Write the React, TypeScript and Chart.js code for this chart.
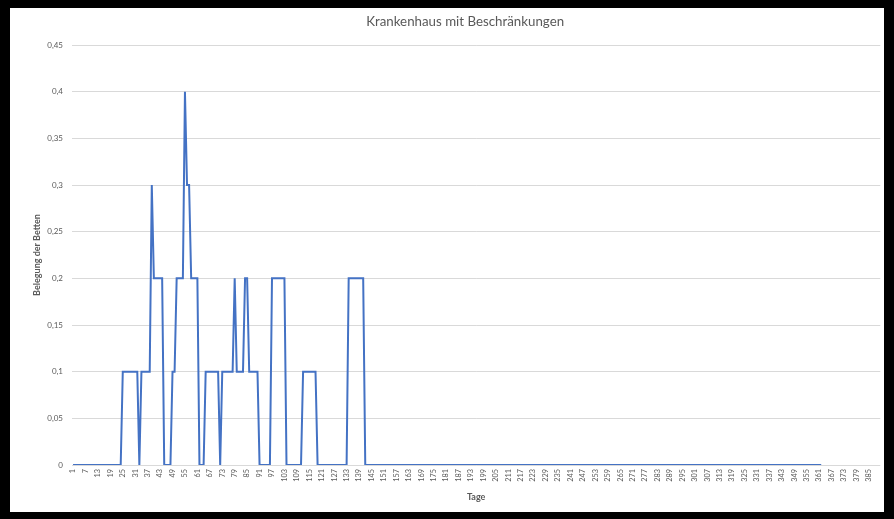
import React, { useEffect, useRef } from "react";
import { Chart, registerables } from "chart.js";

Chart.register(...registerables);

const TITLE = "Krankenhaus mit Beschränkungen";
const Y_TITLE = "Belegung der Betten";
const X_TITLE = "Tage";

// number of day categories on the x axis (rows in the sheet)
const DAY_COUNT = 390;
const days: string[] = Array.from({ length: DAY_COUNT }, (_, i) => String(i + 1));
// a tick label is shown every 6th day
const X_LABEL_STEP = 6;

// bed occupancy per day (days 1..362)
const occupancy: number[] = [
  // 1-20
  0, 0, 0, 0, 0, 0, 0, 0, 0, 0, 0, 0, 0, 0, 0, 0, 0, 0, 0, 0,
  // 21-40
  0, 0, 0, 0, 0.1, 0.1, 0.1, 0.1, 0.1, 0.1, 0.1, 0.1, 0, 0.1, 0.1, 0.1, 0.1, 0.1, 0.3, 0.2,
  // 41-60
  0.2, 0.2, 0.2, 0.2, 0, 0, 0, 0, 0.1, 0.1, 0.2, 0.2, 0.2, 0.2, 0.4, 0.3, 0.3, 0.2, 0.2, 0.2,
  // 61-80
  0.2, 0, 0, 0, 0.1, 0.1, 0.1, 0.1, 0.1, 0.1, 0.1, 0, 0.1, 0.1, 0.1, 0.1, 0.1, 0.1, 0.2, 0.1,
  // 81-100
  0.1, 0.1, 0.1, 0.2, 0.2, 0.1, 0.1, 0.1, 0.1, 0.1, 0, 0, 0, 0, 0, 0, 0.2, 0.2, 0.2, 0.2,
  // 101-120
  0.2, 0.2, 0.2, 0, 0, 0, 0, 0, 0, 0, 0, 0.1, 0.1, 0.1, 0.1, 0.1, 0.1, 0.1, 0, 0,
  // 121-140
  0, 0, 0, 0, 0, 0, 0, 0, 0, 0, 0, 0, 0, 0.2, 0.2, 0.2, 0.2, 0.2, 0.2, 0.2,
  // 141-160
  0.2, 0, 0, 0, 0, 0, 0, 0, 0, 0, 0, 0, 0, 0, 0, 0, 0, 0, 0, 0,
  // 161-180
  0, 0, 0, 0, 0, 0, 0, 0, 0, 0, 0, 0, 0, 0, 0, 0, 0, 0, 0, 0,
  // 181-200
  0, 0, 0, 0, 0, 0, 0, 0, 0, 0, 0, 0, 0, 0, 0, 0, 0, 0, 0, 0,
  // 201-220
  0, 0, 0, 0, 0, 0, 0, 0, 0, 0, 0, 0, 0, 0, 0, 0, 0, 0, 0, 0,
  // 221-240
  0, 0, 0, 0, 0, 0, 0, 0, 0, 0, 0, 0, 0, 0, 0, 0, 0, 0, 0, 0,
  // 241-260
  0, 0, 0, 0, 0, 0, 0, 0, 0, 0, 0, 0, 0, 0, 0, 0, 0, 0, 0, 0,
  // 261-280
  0, 0, 0, 0, 0, 0, 0, 0, 0, 0, 0, 0, 0, 0, 0, 0, 0, 0, 0, 0,
  // 281-300
  0, 0, 0, 0, 0, 0, 0, 0, 0, 0, 0, 0, 0, 0, 0, 0, 0, 0, 0, 0,
  // 301-320
  0, 0, 0, 0, 0, 0, 0, 0, 0, 0, 0, 0, 0, 0, 0, 0, 0, 0, 0, 0,
  // 321-340
  0, 0, 0, 0, 0, 0, 0, 0, 0, 0, 0, 0, 0, 0, 0, 0, 0, 0, 0, 0,
  // 341-360
  0, 0, 0, 0, 0, 0, 0, 0, 0, 0, 0, 0, 0, 0, 0, 0, 0, 0, 0, 0,
  // 361-362
  0, 0,
];

const Y_MIN = 0;
const Y_MAX = 0.45;
const Y_STEP = 0.05;

const FONT = "Lato, 'Open Sans', sans-serif";
const TEXT_COLOR = "#595959";
const GRID_COLOR = "#D9D9D9";
const LINE_COLOR = "#4472C4";

const titlePlugin = {
  id: "offsetTitle",
  afterDraw(chart: any) {
    const { ctx, chartArea } = chart;
    ctx.save();
    ctx.font = `normal 13.3px ${FONT}`;
    ctx.fillStyle = TEXT_COLOR;
    ctx.textAlign = "center";
    ctx.textBaseline = "middle";
    ctx.fillText(TITLE, (chartArea.left + chartArea.right) / 2 - 11, 14);
    ctx.restore();
  },
};

export default function App() {
  const ref = useRef<HTMLCanvasElement>(null);

  useEffect(() => {
    if (!ref.current) return;
    const chart = new Chart(ref.current, {
      type: "line",
      data: {
        labels: days,
        datasets: [
          {
            label: Y_TITLE,
            data: occupancy,
            borderColor: LINE_COLOR,
            backgroundColor: LINE_COLOR,
            borderWidth: 2,
            pointRadius: 0,
            tension: 0,
            fill: false,
          },
        ],
      },
      options: {
        responsive: false,
        animation: false,
        devicePixelRatio: 1,
        layout: { padding: { left: 0, right: 4, top: 37, bottom: 0 } },
        plugins: {
          legend: { display: false },
          tooltip: { enabled: false },
          title: { display: false },
        },
        scales: {
          x: {
            type: "category",
            offset: true,
            grid: { display: false, drawTicks: false },
            border: { display: false },
            afterFit(scale: any) {
              scale.height = 47;
            },
            ticks: {
              autoSkip: false,
              minRotation: 90,
              maxRotation: 90,
              padding: 4,
              color: TEXT_COLOR,
              font: { family: FONT, size: 7.3 },
              callback(_v: any, index: number) {
                return index % X_LABEL_STEP === 0 ? days[index] : "";
              },
            },
            title: {
              display: true,
              text: X_TITLE,
              color: TEXT_COLOR,
              font: { family: FONT, size: 9, weight: "bold" },
              padding: { top: 2, bottom: 10 },
            },
          },
          y: {
            min: Y_MIN,
            max: Y_MAX,
            grid: { color: GRID_COLOR, lineWidth: 1, drawTicks: false },
            border: { display: false },
            afterFit(scale: any) {
              scale.width = 62;
            },
            ticks: {
              stepSize: Y_STEP,
              padding: 9,
              color: TEXT_COLOR,
              font: { family: FONT, size: 8 },
              callback(v: any) {
                return String(Math.round(Number(v) * 100) / 100).replace(".", ",");
              },
            },
            title: {
              display: true,
              text: Y_TITLE,
              color: TEXT_COLOR,
              font: { family: FONT, size: 9, weight: "bold" },
              padding: { top: 22, bottom: 0 },
            },
          },
        },
      },
      plugins: [titlePlugin],
    });
    return () => chart.destroy();
  }, []);

  return (
    <div
      style={{
        position: "fixed",
        left: 0,
        top: 0,
        width: 894,
        height: 519,
        background: "#000",
      }}
    >
      <div
        style={{
          position: "absolute",
          left: 10,
          top: 8,
          width: 874,
          height: 504,
          background: "#fff",
          overflow: "hidden",
        }}
      >
        <canvas ref={ref} width={882} height={504} style={{ display: "block" }} />
      </div>
    </div>
  );
}
